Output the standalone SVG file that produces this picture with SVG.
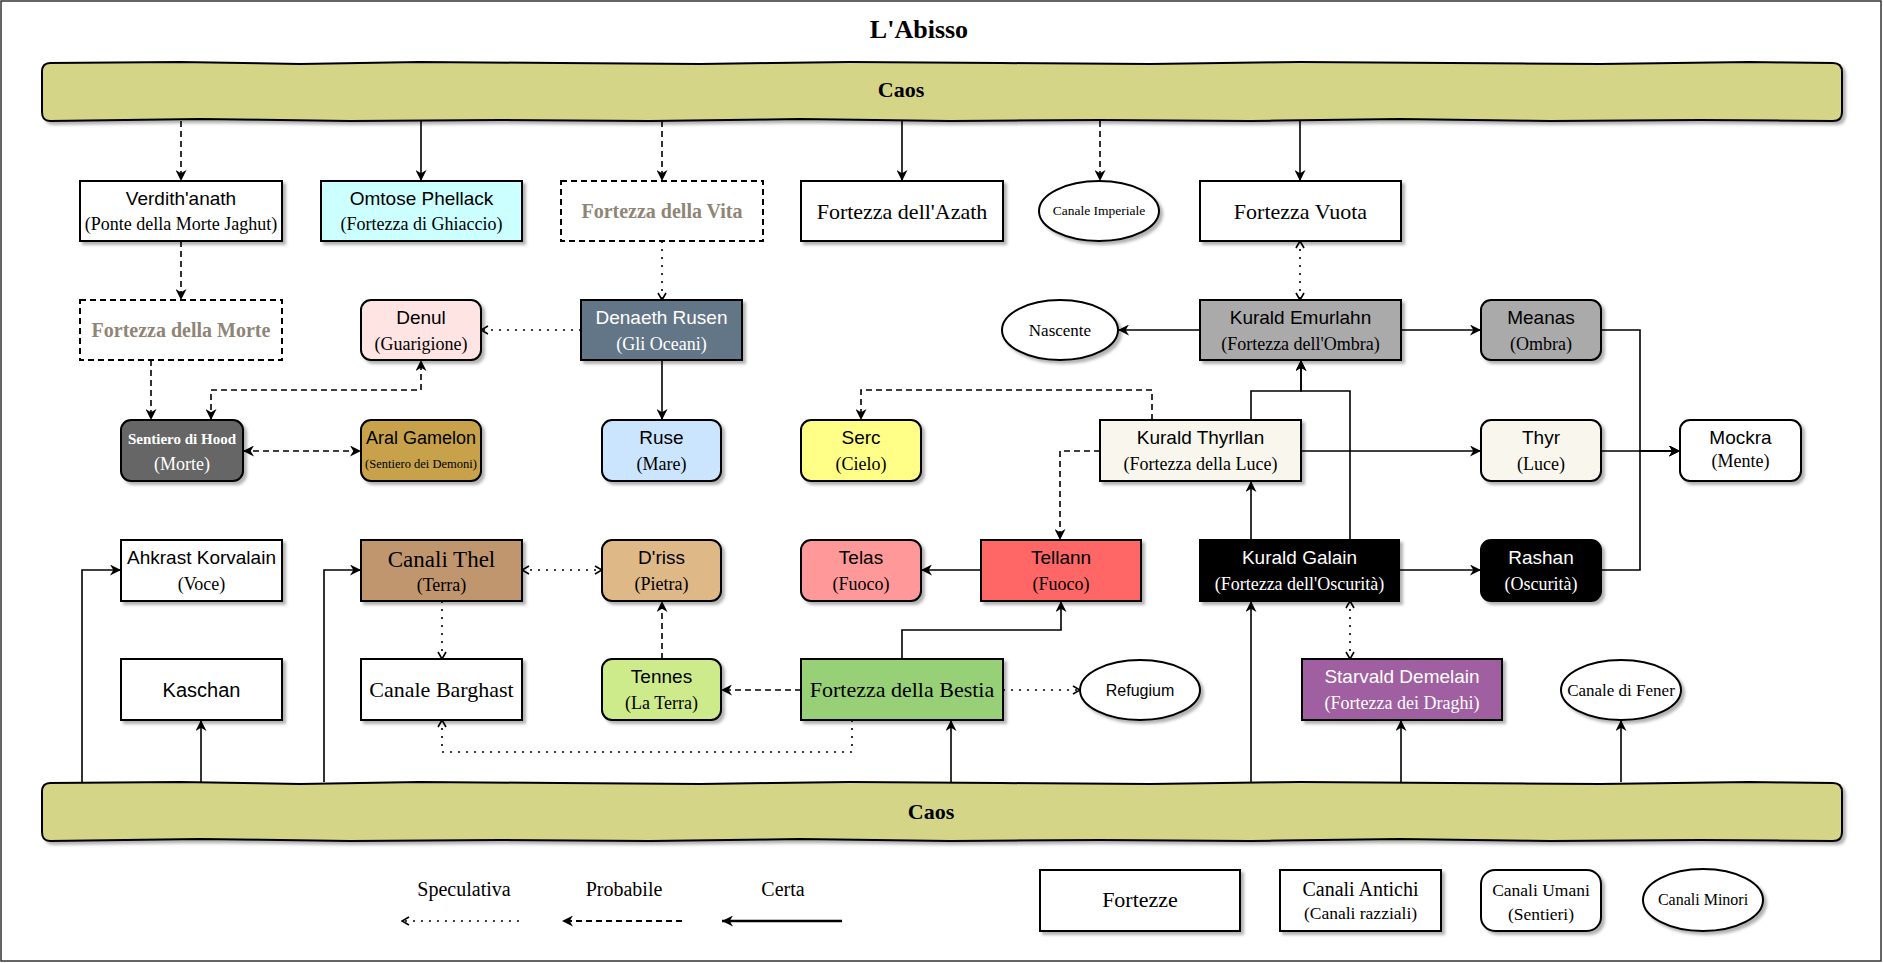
<svg xmlns="http://www.w3.org/2000/svg" width="1883" height="963" viewBox="0 0 1883 963">
<style>
.sh{filter:url(#sh)}
.b{stroke:#000;stroke-width:2}
.t{font-family:"Liberation Sans",Arial,sans-serif;font-size:19px;text-anchor:middle;fill:#000}
.s{font-family:"Liberation Serif","Times New Roman",serif;font-size:18px;text-anchor:middle;fill:#000}
.w{fill:#fff}
.g{font-family:"Liberation Serif","Times New Roman",serif;font-weight:bold;font-size:20px;text-anchor:middle;fill:#8f8576}
.big{font-family:"Liberation Serif","Times New Roman",serif;font-size:22px;text-anchor:middle;fill:#000}
.c{fill:none;stroke:#000;stroke-width:1.6}
.da{stroke-dasharray:6 4}
.do{stroke-dasharray:2 6}
.ar{marker-end:url(#a)}
.ao{marker-end:url(#o)}
.bi{marker-start:url(#a);marker-end:url(#a)}
.bo{marker-start:url(#o);marker-end:url(#o)}
.caos{fill:#d5d588;stroke:#000;stroke-width:2}
.ct{font-family:"Liberation Serif","Times New Roman",serif;font-weight:bold;font-size:22px;text-anchor:middle;fill:#000}
</style>
<defs>
<filter id="sh" x="-10%" y="-10%" width="130%" height="140%">
<feDropShadow dx="3" dy="3" stdDeviation="1.5" flood-color="#000" flood-opacity="0.3"/>
</filter>
<marker id="a" viewBox="0 0 10 10" refX="10" refY="5" markerWidth="11" markerHeight="11" markerUnits="userSpaceOnUse" orient="auto-start-reverse">
<path d="M0,0 L10,5 L0,10 L3,5 Z" fill="#000"/>
</marker>
<marker id="o" viewBox="0 0 10 10" refX="9" refY="5" markerWidth="10" markerHeight="10" markerUnits="userSpaceOnUse" orient="auto-start-reverse">
<path d="M2,1 L9,5 L2,9" fill="none" stroke="#000" stroke-width="1.6"/>
</marker>
</defs>
<rect x="0" y="0" width="1883" height="963" fill="#fff"/>
<rect x="1" y="1" width="1880" height="960" fill="none" stroke="#333" stroke-width="1.5"/>
<text x="919" y="38" style="font-family:'Liberation Serif','Times New Roman',serif;font-weight:bold;font-size:26px" text-anchor="middle">L'Abisso</text>

<g id="caos-top">
<path class="caos sh" d="M50,63 L180,62 L300,64 L420,62 L560,63 L700,64 L850,62 L1000,63 L1150,64 L1300,62 L1450,63 L1600,64 L1750,62 L1833,63 Q1842,63 1842,72 L1842,112 Q1842,121 1833,121 L1700,120 L1550,121 L1400,119 L1250,121 L1100,120 L950,121 L800,119 L650,121 L500,120 L350,121 L200,119 L50,121 Q42,121 42,112 L42,72 Q42,63 50,63 Z"/>
<text class="ct" x="901" y="97">Caos</text>
</g>
<g id="caos-bottom">
<path class="caos sh" d="M50,783 L180,782 L300,784 L420,782 L560,783 L700,784 L850,782 L1000,783 L1150,784 L1300,782 L1450,783 L1600,784 L1750,782 L1833,783 Q1842,783 1842,792 L1842,832 Q1842,841 1833,841 L1700,840 L1550,841 L1400,839 L1250,841 L1100,840 L950,841 L800,839 L650,841 L500,840 L350,841 L200,839 L50,841 Q42,841 42,832 L42,792 Q42,783 50,783 Z"/>
<text class="ct" x="931" y="819">Caos</text>
</g>

<g id="connectors">
<path class="c da ar" d="M181,121 V181"/>
<path class="c ar" d="M421,121 V181"/>
<path class="c da ar" d="M662,121 V181"/>
<path class="c ar" d="M902,121 V181"/>
<path class="c da ar" d="M1100,121 V181"/>
<path class="c ar" d="M1300,121 V181"/>
<path class="c da ar" d="M181,241 V300"/>
<path class="c do ao" d="M662,241 V300"/>
<path class="c do ao" d="M581,330 H481"/>
<path class="c ar" d="M662,360 V420"/>
<path class="c da ar" d="M151,360 V420"/>
<path class="c da bi" d="M211,420 V390 H421 V360"/>
<path class="c da bi" d="M243,451 H361"/>
<path class="c do bo" d="M1300,241 V300"/>
<path class="c ar" d="M1200,330 H1118"/>
<path class="c ar" d="M1401,330 H1481"/>
<path class="c ar" d="M1601,330 H1640 V451 H1680"/>
<path class="c ar" d="M1601,451 H1680"/>
<path class="c ar" d="M1601,570 H1640 V451 H1680"/>
<path class="c ar" d="M1301,451 H1481"/>
<path class="c da ar" d="M1152,420 V390 H861 V420"/>
<path class="c da ar" d="M1100,451 H1060 V540"/>
<path class="c ar" d="M1251,540 V481"/>
<path class="c ar" d="M1251,420 V391 H1301 V360"/>
<path class="c ar" d="M1350,540 V391 H1301 V360"/>
<path class="c ar" d="M1399,570 H1481"/>
<path class="c do bo" d="M1350,601 V659"/>
<path class="c ar" d="M981,570 H921"/>
<path class="c ar" d="M902,659 V630 H1061 V601"/>
<path class="c da ar" d="M801,690 H721"/>
<path class="c do ao" d="M1003,690 H1080"/>
<path class="c da ar" d="M662,659 V601"/>
<path class="c do bo" d="M522,570 H602"/>
<path class="c do ao" d="M442,601 V659"/>
<path class="c do ao" d="M852,720 V752 H442 V720"/>
<path class="c ar" d="M82,782 V570 H121"/>
<path class="c ar" d="M201,782 V720"/>
<path class="c ar" d="M324,782 V570 H361"/>
<path class="c ar" d="M951,782 V720"/>
<path class="c ar" d="M1251,782 V601"/>
<path class="c ar" d="M1401,782 V720"/>
<path class="c ar" d="M1621,782 V720"/>
</g>

<g id="verdithanath"><rect class="b sh" x="80" y="181" width="202" height="60" fill="#fff"/><text class="t" x="181" y="205">Verdith'anath</text><text class="s" x="181" y="230">(Ponte della Morte Jaghut)</text></g>
<g id="omtose-phellack"><rect class="b sh" x="321" y="181" width="201" height="60" fill="#ccffff"/><text class="t" x="421.5" y="205">Omtose Phellack</text><text class="s" x="421.5" y="230">(Fortezza di Ghiaccio)</text></g>
<g id="fortezza-vita"><rect x="561" y="181" width="202" height="60" fill="#fff" stroke="#000" stroke-width="2" stroke-dasharray="6 4"/><text class="g" x="662" y="218">Fortezza della Vita</text></g>
<g id="fortezza-azath"><rect class="b sh" x="801" y="181" width="202" height="60" fill="#fff"/><text class="big" x="902" y="219">Fortezza dell'Azath</text></g>
<g id="canale-imperiale"><ellipse class="b sh" cx="1099" cy="211" rx="60" ry="30" fill="#fff"/><text class="s" x="1099" y="215" style="font-size:13.5px">Canale Imperiale</text></g>
<g id="fortezza-vuota"><rect class="b sh" x="1200" y="181" width="201" height="60" fill="#fff"/><text class="big" x="1300.5" y="219">Fortezza Vuota</text></g>

<g id="fortezza-morte"><rect x="80" y="300" width="202" height="60" fill="#fff" stroke="#000" stroke-width="2" stroke-dasharray="6 4"/><text class="g" x="181" y="337">Fortezza della Morte</text></g>
<g id="denul"><rect class="b sh" x="361" y="300" width="120" height="60" rx="10" fill="#ffe4e4"/><text class="t" x="421" y="324">Denul</text><text class="s" x="421" y="350">(Guarigione)</text></g>
<g id="denaeth-rusen"><rect class="b sh" x="581" y="300" width="161" height="60" fill="#647687"/><text class="t w" x="661.5" y="324">Denaeth Rusen</text><text class="s w" x="661.5" y="350">(Gli Oceani)</text></g>
<g id="nascente"><ellipse class="b sh" cx="1060" cy="330" rx="58" ry="30" fill="#fff"/><text class="s" x="1060" y="336" style="font-size:17px">Nascente</text></g>
<g id="kurald-emurlahn"><rect class="b sh" x="1200" y="300" width="201" height="60" fill="#aaaaaa"/><text class="t" x="1300.5" y="324">Kurald Emurlahn</text><text class="s" x="1300.5" y="350">(Fortezza dell'Ombra)</text></g>
<g id="meanas"><rect class="b sh" x="1481" y="300" width="120" height="60" rx="10" fill="#aaaaaa"/><text class="t" x="1541" y="324">Meanas</text><text class="s" x="1541" y="350">(Ombra)</text></g>

<g id="sentiero-hood"><rect class="b sh" x="121" y="420" width="122" height="61" rx="10" fill="#666666"/><text class="s w" x="182" y="444" style="font-size:15px;font-weight:bold">Sentiero di Hood</text><text class="s w" x="182" y="470">(Morte)</text></g>
<g id="aral-gamelon"><rect class="b sh" x="361" y="420" width="120" height="61" rx="10" fill="#c7a24c"/><text class="t" x="421" y="444" style="font-size:18px">Aral Gamelon</text><text class="s" x="421" y="468" style="font-size:12.5px">(Sentiero dei Demoni)</text></g>
<g id="ruse"><rect class="b sh" x="602" y="420" width="119" height="61" rx="10" fill="#cce5ff"/><text class="t" x="661.5" y="444">Ruse</text><text class="s" x="661.5" y="470">(Mare)</text></g>
<g id="serc"><rect class="b sh" x="801" y="420" width="120" height="61" rx="10" fill="#ffff88"/><text class="t" x="861" y="444">Serc</text><text class="s" x="861" y="470">(Cielo)</text></g>
<g id="kurald-thyrllan"><rect class="b sh" x="1100" y="420" width="201" height="61" fill="#f9f7ed"/><text class="t" x="1200.5" y="444">Kurald Thyrllan</text><text class="s" x="1200.5" y="470">(Fortezza della Luce)</text></g>
<g id="thyr"><rect class="b sh" x="1481" y="420" width="120" height="61" rx="10" fill="#f9f7ed"/><text class="t" x="1541" y="444">Thyr</text><text class="s" x="1541" y="470">(Luce)</text></g>
<g id="mockra"><rect class="b sh" x="1680" y="420" width="121" height="61" rx="10" fill="#fff"/><text class="t" x="1740.5" y="444">Mockra</text><text class="s" x="1740.5" y="467">(Mente)</text></g>

<g id="ahkrast-korvalain"><rect class="b sh" x="121" y="540" width="161" height="61" fill="#fff"/><text class="t" x="201.5" y="564">Ahkrast Korvalain</text><text class="s" x="201.5" y="590">(Voce)</text></g>
<g id="canali-thel"><rect class="b sh" x="361" y="540" width="161" height="61" fill="#c0966e"/><text class="s" x="441.5" y="567" style="font-size:23px">Canali Thel</text><text class="s" x="441.5" y="591">(Terra)</text></g>
<g id="driss"><rect class="b sh" x="602" y="540" width="119" height="61" rx="10" fill="#deb887"/><text class="t" x="661.5" y="564">D'riss</text><text class="s" x="661.5" y="590">(Pietra)</text></g>
<g id="telas"><rect class="b sh" x="801" y="540" width="120" height="61" rx="10" fill="#ff9999"/><text class="t" x="861" y="564">Telas</text><text class="s" x="861" y="590">(Fuoco)</text></g>
<g id="tellann"><rect class="b sh" x="981" y="540" width="160" height="61" fill="#ff6666"/><text class="t" x="1061" y="564">Tellann</text><text class="s" x="1061" y="590">(Fuoco)</text></g>
<g id="kurald-galain"><rect class="b sh" x="1200" y="540" width="199" height="61" fill="#000"/><text class="t w" x="1299.5" y="564">Kurald Galain</text><text class="s w" x="1299.5" y="590">(Fortezza dell'Oscurità)</text></g>
<g id="rashan"><rect class="b sh" x="1481" y="540" width="120" height="61" rx="10" fill="#000"/><text class="t w" x="1541" y="564">Rashan</text><text class="s w" x="1541" y="590">(Oscurità)</text></g>

<g id="kaschan"><rect class="b sh" x="121" y="659" width="161" height="61" fill="#fff"/><text class="t" x="201.5" y="697" style="font-size:20px">Kaschan</text></g>
<g id="canale-barghast"><rect class="b sh" x="361" y="659" width="161" height="61" fill="#fff"/><text class="big" x="441.5" y="697">Canale Barghast</text></g>
<g id="tennes"><rect class="b sh" x="602" y="659" width="119" height="61" rx="10" fill="#cdeb8b"/><text class="t" x="661.5" y="683">Tennes</text><text class="s" x="661.5" y="709">(La Terra)</text></g>
<g id="fortezza-bestia"><rect class="b sh" x="801" y="659" width="202" height="61" fill="#97d077"/><text class="big" x="902" y="697">Fortezza della Bestia</text></g>
<g id="refugium"><ellipse class="b sh" cx="1140" cy="690" rx="60" ry="30" fill="#fff"/><text class="t" x="1140" y="696" style="font-size:16px">Refugium</text></g>
<g id="starvald-demelain"><rect class="b sh" x="1302" y="659" width="200" height="61" fill="#a05fa0"/><text class="t w" x="1402" y="683">Starvald Demelain</text><text class="s w" x="1402" y="709">(Fortezza dei Draghi)</text></g>
<g id="canale-fener"><ellipse class="b sh" cx="1621" cy="690" rx="60" ry="30" fill="#fff"/><text class="s" x="1621" y="696" style="font-size:17px">Canale di Fener</text></g>

<g id="legend">
<text class="s" x="464" y="896" style="font-size:20px">Speculativa</text>
<text class="s" x="624" y="896" style="font-size:20px">Probabile</text>
<text class="s" x="783" y="896" style="font-size:20px">Certa</text>
<path class="c do ao" d="M519,921 H402"/>
<path class="c da ar" d="M682,921 H562" style="stroke-width:2.2"/>
<path class="c ar" d="M842,921 H722" style="stroke-width:2.5"/>
<g id="legend-fortezze"><rect class="b sh" x="1040" y="870" width="200" height="61" fill="#fff"/><text class="big" x="1140" y="907">Fortezze</text></g>
<g id="legend-antichi"><rect class="b sh" x="1280" y="870" width="161" height="61" fill="#fff"/><text class="s" x="1360.5" y="896" style="font-size:20px">Canali Antichi</text><text class="s" x="1360.5" y="919" style="font-size:17.5px">(Canali razziali)</text></g>
<g id="legend-umani"><rect class="b sh" x="1481" y="870" width="120" height="61" rx="14" fill="#fff"/><text class="s" x="1541" y="896" style="font-size:17.5px">Canali Umani</text><text class="s" x="1541" y="920" style="font-size:17.5px">(Sentieri)</text></g>
<g id="legend-minori"><ellipse class="b sh" cx="1703" cy="900" rx="60" ry="31" fill="#fff"/><text class="s" x="1703" y="905" style="font-size:16px">Canali Minori</text></g>
</g>
</svg>
